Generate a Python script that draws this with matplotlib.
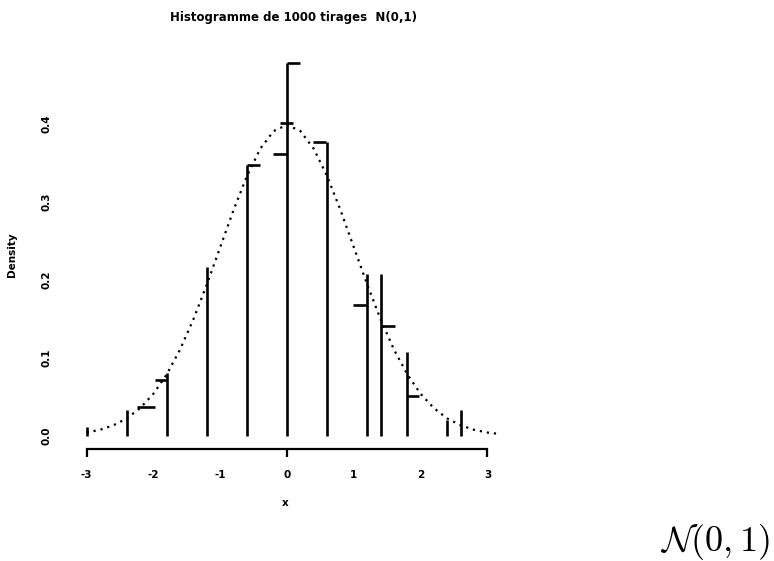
import matplotlib
matplotlib.use("Agg")
import matplotlib.pyplot as plt

# Bin-edge lines of the histogram (x position, height of the line)
edge_x = [-3.0, -2.4, -1.8, -1.2, -0.6, 0.0, 0.6, 1.2, 1.4, 1.8, 2.4, 2.6]
edge_top = [0.012, 0.033, 0.081, 0.217, 0.347, 0.478, 0.377, 0.208, 0.208, 0.108, 0.021, 0.033]

# Short top segments drawn by the histogram (start, end, height)
seg_x0 = [-2.25, -1.98, -0.60, 0.00, -0.21, -0.10, 0.39, 0.99, 1.41, 1.80]
seg_x1 = [-1.98, -1.80, -0.40, 0.19, 0.00, 0.09, 0.58, 1.18, 1.62, 1.98]
seg_y = [0.037, 0.072, 0.347, 0.478, 0.362, 0.401, 0.377, 0.168, 0.141, 0.051]

# Density curve
curve_x = [-3.0, -2.8, -2.6, -2.4, -2.2, -2.0, -1.8, -1.6, -1.4, -1.2, -1.0,
           -0.8, -0.6, -0.4, -0.2, 0.0, 0.2, 0.4, 0.6, 0.8, 1.0, 1.2, 1.4,
           1.6, 1.8, 2.0, 2.2, 2.4, 2.6, 2.8, 3.0, 3.2]
curve_y = [0.0044, 0.0079, 0.0136, 0.0224, 0.0355, 0.0540, 0.0790, 0.1109,
           0.1497, 0.1942, 0.2420, 0.2897, 0.3332, 0.3683, 0.3910, 0.3989,
           0.3910, 0.3683, 0.3332, 0.2897, 0.2420, 0.1942, 0.1497, 0.1109,
           0.0790, 0.0540, 0.0355, 0.0224, 0.0136, 0.0079, 0.0044, 0.0024]

x_major = [-3, 0, 3]
x_minor = [-2, -1, 1, 2]
y_ticks = [0.0, 0.1, 0.2, 0.3, 0.4]

W, H = 774, 561
fig = plt.figure(figsize=(W / 100, H / 100), dpi=100)
ax = fig.add_axes([60 / W, 1 - 460 / H, 450 / W, 410 / H])
ax.set_xlim(-3.397, 3.337)
ax.set_ylim(-0.0308, 0.4949)

ax.vlines(edge_x, 0, edge_top, colors="black", linewidth=1.9)
ax.hlines(seg_y, seg_x0, seg_x1, colors="black", linewidth=1.9)
ax.plot(curve_x, curve_y, color="black", linewidth=1.6, linestyle=(0, (1, 2.2)))

# x axis as a detached R-style axis
for s in ["top", "right", "left"]:
    ax.spines[s].set_visible(False)
ax.spines["bottom"].set_position(("data", -0.0167))
ax.spines["bottom"].set_bounds(-3, 3)
ax.spines["bottom"].set_linewidth(1.6)
ax.set_xticks(x_major, labels=[str(v) for v in x_major])
ax.set_xticks(x_minor, labels=[str(v) for v in x_minor], minor=True)
ax.tick_params(axis="x", which="major", length=6, width=1.6, pad=9,
               labelsize=7.5)
ax.tick_params(axis="x", which="minor", length=0, pad=15, labelsize=7.5)
for lab in ax.get_xticklabels(which="both"):
    lab.set_fontweight("bold")

ax.set_yticks(y_ticks, labels=[f"{v:.1f}" for v in y_ticks])
ax.tick_params(axis="y", length=0, pad=6, labelsize=7.5)
for lab in ax.get_yticklabels():
    lab.set_rotation(90)
    lab.set_va("center")
    lab.set_fontweight("bold")

ax.set_xlabel("x", fontsize=7.5, fontweight="bold", labelpad=13)
ax.set_ylabel("Density", fontsize=7.5, fontweight="bold", labelpad=18)
fig.text(293 / W, 1 - 18 / H, "Histogramme de 1000 tirages  N(0,1)",
         ha="center", va="center", fontsize=8.5, fontweight="bold")

fig.text(770 / W, 1 - 551 / H, r"$\mathcal{N}(0,1)$", ha="right",
         va="baseline", fontsize=26, math_fontfamily="cm")

fig.savefig("out.png", dpi=100)
